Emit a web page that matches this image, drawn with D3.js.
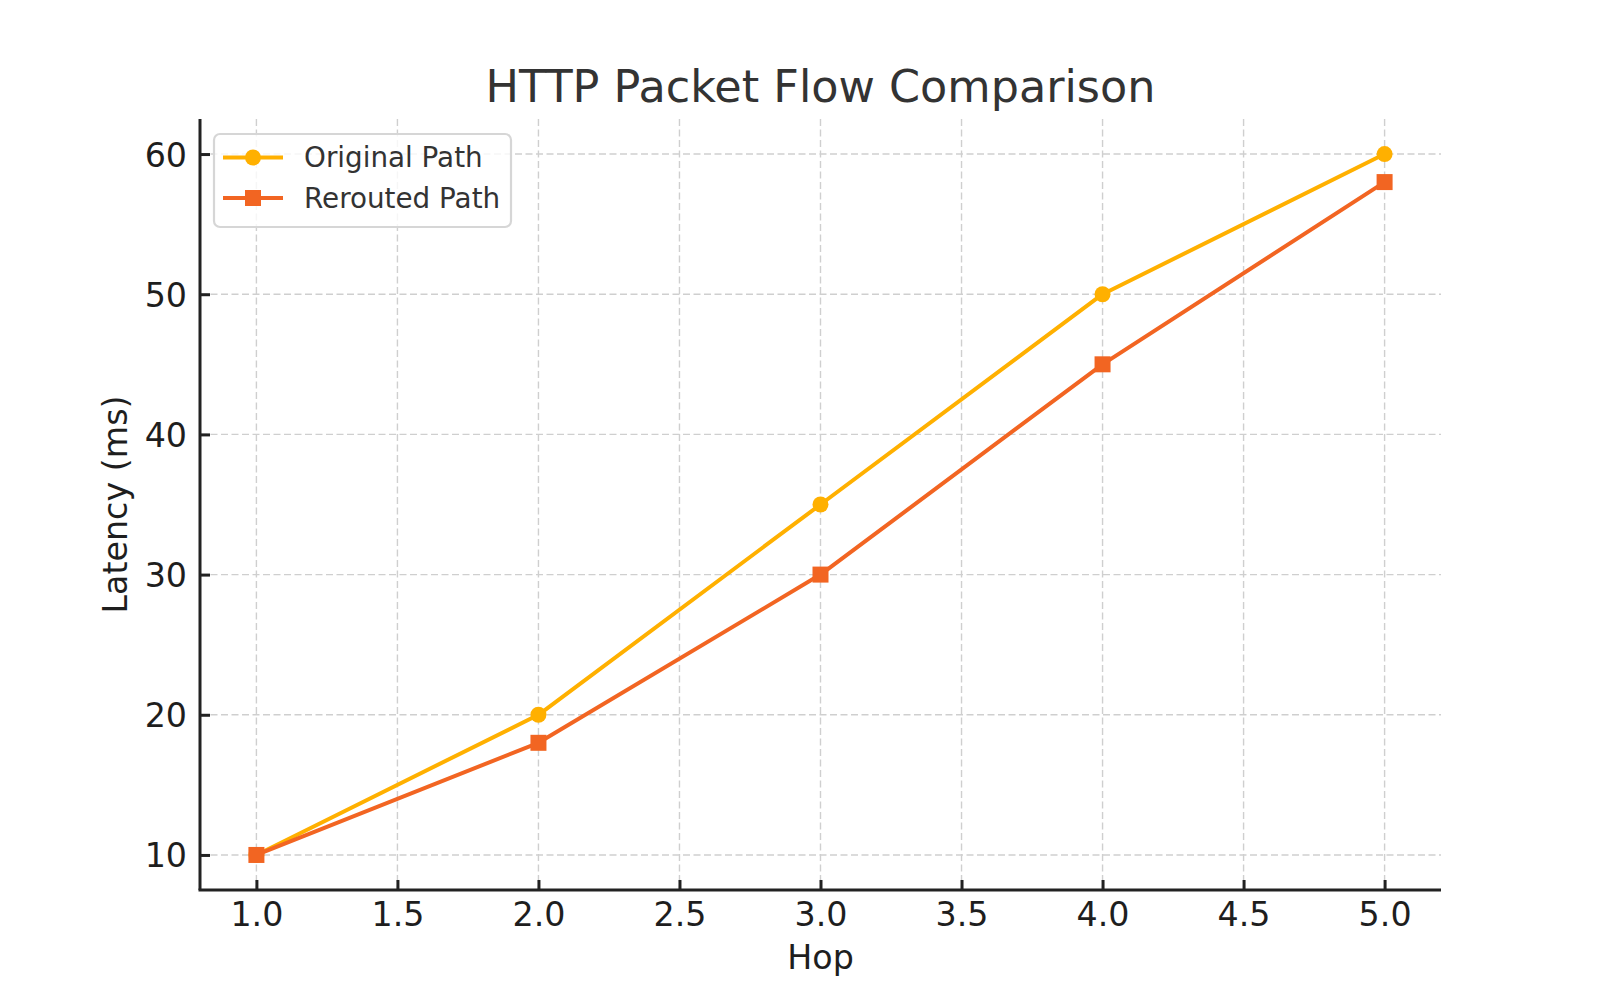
<!DOCTYPE html>
<html>
<head>
<meta charset="utf-8">
<script src="https://cdn.jsdelivr.net/npm/d3@7"></script>
<style>
  html, body { margin: 0; padding: 0; background: #fff; }
  svg { display: block; font-family: "DejaVu Sans", sans-serif; }
</style>
</head>
<body>
<svg id="chart" width="1600" height="1000"></svg>
<script>
// ---- data ----
const hops = [1, 2, 3, 4, 5];
const originalPath = [10, 20, 35, 50, 60];
const reroutedPath = [10, 18, 30, 45, 58];
const seriesNames = ["Original Path", "Rerouted Path"];
const xTicks = [1.0, 1.5, 2.0, 2.5, 3.0, 3.5, 4.0, 4.5, 5.0];
const yTicks = [10, 20, 30, 40, 50, 60];
const titleText = "HTTP Packet Flow Comparison";
const xLabelText = "Hop";
const yLabelText = "Latency (ms)";

(function () {
// ---- layout ----
const svg = d3.select("#chart");
const pLeft = 200, pRight = 1441, pTop = 119, pBottom = 890;
const colors = ["#FFB000", "#F26522"];

const x = d3.scaleLinear().domain([0.8, 5.2]).range([pLeft, pRight]);
const y = d3.scaleLinear().domain([7.5, 62.5]).range([pBottom, pTop]);

// grid
const grid = svg.append("g").attr("stroke", "#cfcfcf").attr("stroke-width", 1.4)
  .attr("stroke-dasharray", "7,3.5").attr("fill", "none");
grid.selectAll("line.gx").data(xTicks).join("line").attr("class", "gx")
  .attr("x1", d => x(d)).attr("x2", d => x(d)).attr("y1", pTop).attr("y2", pBottom);
grid.selectAll("line.gy").data(yTicks).join("line").attr("class", "gy")
  .attr("y1", d => y(d)).attr("y2", d => y(d)).attr("x1", pLeft).attr("x2", pRight);

// axes
const xAxis = d3.axisBottom(x).tickValues(xTicks).tickFormat(d3.format(".1f"))
  .tickSizeInner(-10).tickSizeOuter(0).tickPadding(22);
const yAxis = d3.axisLeft(y).tickValues(yTicks).tickFormat(d3.format("d"))
  .tickSizeInner(-10).tickSizeOuter(0).tickPadding(22);

const gx = svg.append("g").attr("transform", `translate(0,${pBottom})`).call(xAxis);
const gy = svg.append("g").attr("transform", `translate(${pLeft},0)`).call(yAxis);
[gx, gy].forEach(g => {
  g.select(".domain").attr("stroke", "#222").attr("stroke-width", 3);
  g.selectAll(".tick line").attr("stroke", "#222").attr("stroke-width", 3);
  g.selectAll(".tick text").attr("fill", "#1e1e1e").attr("font-size", 33.3)
    .attr("font-family", "DejaVu Sans, sans-serif");
});
gx.selectAll(".tick text").attr("dy", null).attr("y", 36);
gy.selectAll(".tick text").attr("x", -13).attr("dy", "0.36em");
gx.select(".domain").attr("d", `M${pLeft - 1.5},0H${pRight}`);
gy.select(".domain").attr("d", `M0,${pTop}V${pBottom}`);

// lines
const line = d3.line().x((d, i) => x(hops[i])).y(d => y(d));
const series = [originalPath, reroutedPath];

series.forEach((vals, si) => {
  const g = svg.append("g");
  g.append("path").datum(vals).attr("d", line).attr("fill", "none")
    .attr("stroke", colors[si]).attr("stroke-width", 4).attr("stroke-linejoin", "round");
  if (si === 0) {
    g.selectAll("circle").data(vals).join("circle")
      .attr("cx", (d, i) => x(hops[i])).attr("cy", d => y(d)).attr("r", 8)
      .attr("fill", colors[si]);
  } else {
    g.selectAll("rect").data(vals).join("rect")
      .attr("x", (d, i) => x(hops[i]) - 8).attr("y", d => y(d) - 8)
      .attr("width", 16).attr("height", 16).attr("fill", colors[si]);
  }
});

// title & labels
svg.append("text").attr("x", (pLeft + pRight) / 2).attr("y", 102)
  .attr("text-anchor", "middle").attr("font-size", 44.5).attr("fill", "#333")
  .text(titleText);
svg.append("text").attr("x", (pLeft + pRight) / 2).attr("y", 969)
  .attr("text-anchor", "middle").attr("font-size", 33.3).attr("fill", "#1e1e1e")
  .text(xLabelText);
svg.append("text").attr("transform", `translate(127,${(pTop + pBottom) / 2}) rotate(-90)`)
  .attr("text-anchor", "middle").attr("font-size", 33.3).attr("fill", "#1e1e1e")
  .text(yLabelText);

// legend
const lg = svg.append("g");
lg.append("rect").attr("x", 214).attr("y", 134).attr("width", 297).attr("height", 93)
  .attr("rx", 6).attr("fill", "#fff").attr("fill-opacity", 0.8)
  .attr("stroke", "#d6d6d6").attr("stroke-width", 2.2);
const rowsY = [157.5, 198];
seriesNames.forEach((name, i) => {
  const yy = rowsY[i];
  lg.append("line").attr("x1", 223).attr("x2", 283).attr("y1", yy).attr("y2", yy)
    .attr("stroke", colors[i]).attr("stroke-width", 4);
  if (i === 0) {
    lg.append("circle").attr("cx", 253).attr("cy", yy).attr("r", 8).attr("fill", colors[i]);
  } else {
    lg.append("rect").attr("x", 253 - 8).attr("y", yy - 8).attr("width", 16)
      .attr("height", 16).attr("fill", colors[i]);
  }
  lg.append("text").attr("x", 304).attr("y", yy + 9.5).attr("font-size", 27.8)
    .attr("fill", "#333").text(name);
});
})();
</script>
</body>
</html>
